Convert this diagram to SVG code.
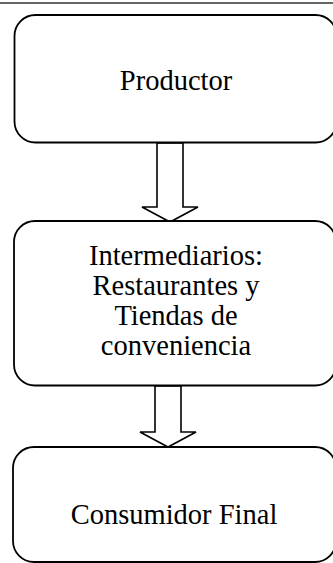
<svg xmlns="http://www.w3.org/2000/svg" width="333" height="563" viewBox="0 0 333 563">
<style>
.box{fill:#fff;stroke:#000;stroke-width:1.8}
.arr{fill:#fff;stroke:#000;stroke-width:1.6;stroke-linejoin:miter}
.t{font-family:"Liberation Serif","Times New Roman",serif;font-size:28.5px;fill:#000;text-anchor:middle}
</style>
<rect x="0" y="0" width="333" height="563" fill="#fff"/>
<line x1="0" y1="3" x2="333" y2="3" stroke="#333" stroke-width="1.5"/>
<g id="connectors">
<path class="arr" d="M157,143 L183,143 L183,207 L198,207 L170,222 L142,207 L157,207 Z"/>
<path class="arr" d="M155,386 L181,386 L181,432 L196,432 L168,447 L140,432 L155,432 Z"/>
</g>
<g id="productor">
<rect class="box" x="14.5" y="15" width="322" height="127.5" rx="21" ry="21"/>
<text class="t" x="176" y="90">Productor</text>
</g>
<g id="intermediarios">
<rect class="box" x="14" y="221" width="322" height="164.5" rx="21" ry="21"/>
<text class="t" x="176" y="265">Intermediarios:</text>
<text class="t" x="176" y="295">Restaurantes y</text>
<text class="t" x="176" y="325">Tiendas de</text>
<text class="t" x="176" y="355">conveniencia</text>
</g>
<g id="consumidor">
<rect class="box" x="13" y="447" width="323" height="115" rx="21" ry="21"/>
<text class="t" x="174" y="524">Consumidor Final</text>
</g>
</svg>
